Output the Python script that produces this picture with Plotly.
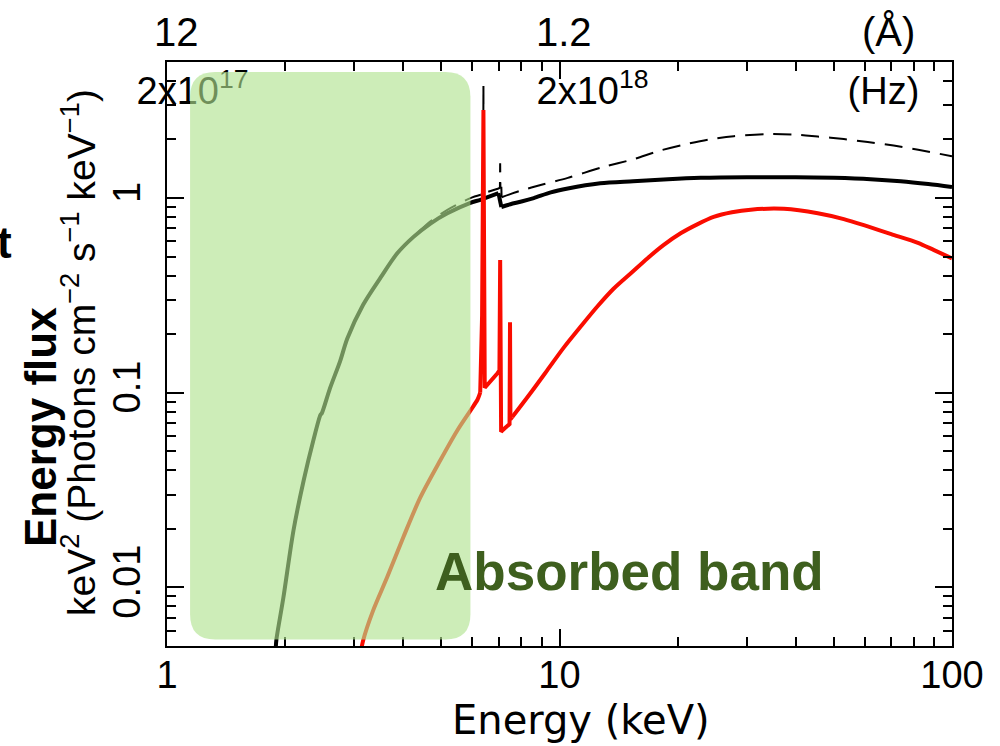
import math
import plotly.graph_objects as go

# ---------------- data ----------------
# total (absorbed) model, thick black
energy_total = [1.893, 1.90, 1.98, 2.10, 2.23, 2.36, 2.46, 2.48, 2.60, 2.76, 2.88, 3.16, 3.50,
                3.86, 4.24, 4.69, 5.18, 5.93, 6.29, 6.99, 7.11, 7.5, 8.0, 8.6, 9.5, 10.5, 12.7,
                15.4, 18.9, 22.9, 30, 40, 50, 62, 74, 87, 100]
flux_total = [0.0049, 0.0054, 0.0089, 0.0196, 0.0355, 0.057, 0.077, 0.0785, 0.105, 0.145, 0.19,
              0.283, 0.39, 0.52, 0.63, 0.74, 0.835, 0.945, 0.98, 1.06, 0.90, 0.93, 0.96, 1.00,
              1.07, 1.12, 1.19, 1.22, 1.25, 1.27, 1.28, 1.28, 1.27, 1.25, 1.22, 1.18, 1.14]

# second model, thin dashed black (with Fe K alpha / K beta lines)
energy_dashed = [1.893, 1.90, 1.98, 2.10, 2.23, 2.36, 2.46, 2.48, 2.60, 2.76, 2.88, 3.16, 3.50,
                 3.86, 4.24, 4.69, 5.18, 5.93, 6.30, 6.39, 6.40, 6.41, 6.99, 7.05, 7.06, 7.07,
                 7.11, 7.12, 7.95, 9.0, 10.5, 13.0, 15.4, 17.8, 20.7, 24.0, 27.8, 33.9, 39.5,
                 45.5, 53, 61, 71, 82, 100]
flux_dashed = [0.0049, 0.0054, 0.0089, 0.0196, 0.0355, 0.057, 0.077, 0.0785, 0.105, 0.145, 0.19,
               0.283, 0.39, 0.52, 0.63, 0.76, 0.87, 1.00, 1.04, 1.05, 3.8, 1.06, 1.12, 1.13,
               1.51, 1.13, 1.13, 1.01, 1.09, 1.17, 1.27, 1.45, 1.58, 1.74, 1.88, 2.00, 2.08, 2.13,
               2.12, 2.07, 2.01, 1.94, 1.86, 1.77, 1.64]

# reflection component, red
energy_refl = [3.12, 3.16, 3.35, 3.64, 4.0, 4.42, 4.97, 5.49, 5.93, 6.18, 6.28, 6.35, 6.40, 6.45,
               6.95, 7.03, 7.06, 7.10, 7.15, 7.46, 7.48, 7.50, 7.58, 8.43, 9.32, 10.24, 11.31,
               12.5, 13.73, 15.2, 16.77, 18.4, 20.4, 22.5, 24.7, 27.5, 30.7, 37.3, 45.5, 53,
               61, 70, 81.9, 90, 100]
flux_refl = [0.0047, 0.00534, 0.0076, 0.0113, 0.0181, 0.029, 0.045, 0.064, 0.081, 0.092, 0.10,
             0.25, 2.83, 0.106, 0.126, 0.13, 0.48, 0.063, 0.064, 0.069, 0.23, 0.073, 0.075,
             0.0994, 0.131, 0.170, 0.218, 0.278, 0.342, 0.411, 0.491, 0.573, 0.661, 0.735,
             0.80, 0.845, 0.872, 0.880, 0.836, 0.78, 0.715, 0.653, 0.589, 0.54, 0.49]

# energy windows containing the sharp line/edge features (drawn without smoothing)
sharp_total = [6.99, 7.11]
sharp_dashed = [6.30, 7.12]
sharp_refl = [6.28, 7.58]

# axes
x_range_kev = [1, 100]
y_range_flux = [0.005, 5]
x_tick_vals = [1, 10, 100]
x_tick_text = ["1", "10", "100"]
y_tick_vals = [0.01, 0.1, 1]
y_tick_text = ["0.01", "0.1", "1"]

# frequency labels along the top (placed at energies)
hz_labels = ["2x10<sup>17</sup>", "2x10<sup>18</sup>", "(Hz)"]
hz_energy = [1.162, 12.14, 66.9]
hz_flux = [3.4, 3.4, 3.4]

# wavelength labels above the frame
ang_labels = ["12", "1.2", "(Å)"]
ang_energy = [1.06, 10.25, 68.7]

# absorbed band box (energy / flux extent)
band_energy = [1.145, 5.93]
band_flux = [0.0054, 4.44]

# ---------------- figure ----------------
W, H = 1000, 746
ML, MR, MT, MB = 167, 48, 62, 100
PW, PH = W - ML - MR, H - MT - MB

lx0, lx1 = math.log10(x_range_kev[0]), math.log10(x_range_kev[1])
ly0, ly1 = math.log10(y_range_flux[0]), math.log10(y_range_flux[1])


def xpaper(e):
    return (math.log10(e) - lx0) / (lx1 - lx0)


def ypaper(v):
    return (math.log10(v) - ly0) / (ly1 - ly0)


def px_x(px):
    return (px - ML) / PW


def px_y(py):
    return (PH - (py - MT)) / PH


fig = go.Figure()


def add_curve(energy, flux, sharp, line):
    lo, hi = sharp
    segs = [
        ([e for e in energy if e <= lo], [f for e, f in zip(energy, flux) if e <= lo], "spline"),
        ([e for e in energy if lo <= e <= hi], [f for e, f in zip(energy, flux) if lo <= e <= hi], "linear"),
        ([e for e in energy if e >= hi], [f for e, f in zip(energy, flux) if e >= hi], "spline"),
    ]
    for xs, ys, shape in segs:
        ln = dict(line)
        ln["shape"] = shape
        if shape == "spline":
            ln["smoothing"] = 0.8
        fig.add_trace(go.Scatter(x=xs, y=ys, mode="lines", line=ln, hoverinfo="skip"))


add_curve(energy_dashed, flux_dashed, sharp_dashed,
          dict(color="black", width=2, dash="18px,10px"))
add_curve(energy_total, flux_total, sharp_total, dict(color="black", width=4))
add_curve(energy_refl, flux_refl, sharp_refl, dict(color="rgb(250,12,0)", width=4))

fig.add_trace(go.Scatter(x=hz_energy, y=hz_flux, mode="text", text=hz_labels,
                         textposition="middle center", cliponaxis=False, hoverinfo="skip",
                         textfont=dict(family="Liberation Sans, Arial", size=38, color="black")))

# rounded translucent box
x0, x1 = xpaper(band_energy[0]), xpaper(band_energy[1])
y0, y1 = ypaper(band_flux[0]), ypaper(band_flux[1])
rad = 25
rx, ry = rad / PW, rad / PH
path = (f"M {x0+rx},{y0} L {x1-rx},{y0} Q {x1},{y0} {x1},{y0+ry} "
        f"L {x1},{y1-ry} Q {x1},{y1} {x1-rx},{y1} L {x0+rx},{y1} "
        f"Q {x0},{y1} {x0},{y1-ry} L {x0},{y0+ry} Q {x0},{y0} {x0+rx},{y0} Z")
fig.add_shape(type="path", path=path, xref="paper", yref="paper", layer="above",
              fillcolor="rgba(176,227,143,0.63)", line=dict(width=0))

minor_x = [m * 10 ** d for d in range(0, 2) for m in range(2, 10)]
minor_y = [m * 10 ** d for d in range(-3, 1) for m in range(2, 10)
           if y_range_flux[0] < m * 10 ** d <= y_range_flux[1] and m * 10 ** d not in y_tick_vals]

tick_font = dict(family="Liberation Sans, Arial", size=38, color="black")
axis_common = dict(type="log", showgrid=False, zeroline=False, showline=True, linewidth=2,
                   linecolor="black", mirror="allticks", ticks="inside", ticklen=17,
                   tickwidth=2, tickcolor="black", tickfont=tick_font, tickmode="array")

fig.update_layout(
    width=W, height=H, showlegend=False,
    margin=dict(l=ML, r=MR, t=MT, b=MB, autoexpand=False),
    plot_bgcolor="white", paper_bgcolor="white",
    xaxis=dict(range=[lx0, lx1], tickvals=x_tick_vals, ticktext=x_tick_text,
               ticklabelstandoff=-6, automargin=False,
               minor=dict(tickmode="array", tickvals=minor_x, ticks="inside", ticklen=9,
                          tickwidth=2, tickcolor="black", showgrid=False),
               **axis_common),
    yaxis=dict(range=[ly0, ly1], tickvals=y_tick_vals, ticktext=y_tick_text,
               tickangle=-90, ticklabelstandoff=10, automargin=False,
               minor=dict(tickmode="array", tickvals=minor_y, ticks="inside", ticklen=9,
                          tickwidth=2, tickcolor="black", showgrid=False),
               **axis_common),
)

ann = []
for lab, e in zip(ang_labels, ang_energy):
    ann.append(dict(text=lab, x=xpaper(e), y=px_y(32), xref="paper", yref="paper",
                    showarrow=False, xanchor="center", yanchor="middle",
                    font=dict(family="Liberation Sans, Arial", size=40, color="black")))
ann.append(dict(text="Energy (keV)", x=px_x(581), y=px_y(720),
                xref="paper", yref="paper", showarrow=False, xanchor="center", yanchor="middle",
                font=dict(family="DejaVu Sans", size=40, color="black")))
ann.append(dict(text="<b>Energy flux</b>", x=px_x(40), y=px_y(427),
                xref="paper", yref="paper", showarrow=False, textangle=-90,
                xanchor="center", yanchor="middle",
                font=dict(family="Liberation Sans, Arial", size=44, color="black")))
ann.append(dict(text="keV<sup>2</sup> (Photons cm<sup>−2</sup> s<sup>−1</sup> keV<sup>−1</sup>)",
                x=px_x(78), y=px_y(353),
                xref="paper", yref="paper", showarrow=False, textangle=-90,
                xanchor="center", yanchor="middle",
                font=dict(family="Liberation Sans, Arial", size=39, color="black")))
ann.append(dict(text="<b>t</b>", x=px_x(-5), y=px_y(242),
                xref="paper", yref="paper", showarrow=False, xanchor="left", yanchor="middle",
                font=dict(family="Liberation Sans, Arial", size=44, color="black")))
ann.append(dict(text="<b>Absorbed band</b>", x=px_x(629), y=px_y(571),
                xref="paper", yref="paper", showarrow=False, xanchor="center", yanchor="middle",
                font=dict(family="Liberation Sans, Arial", size=53, color="#3e5f1e")))
fig.update_layout(annotations=ann)

fig.write_html("out.html", config={"displayModeBar": False},
               post_script="document.body.style.margin='0px';")
